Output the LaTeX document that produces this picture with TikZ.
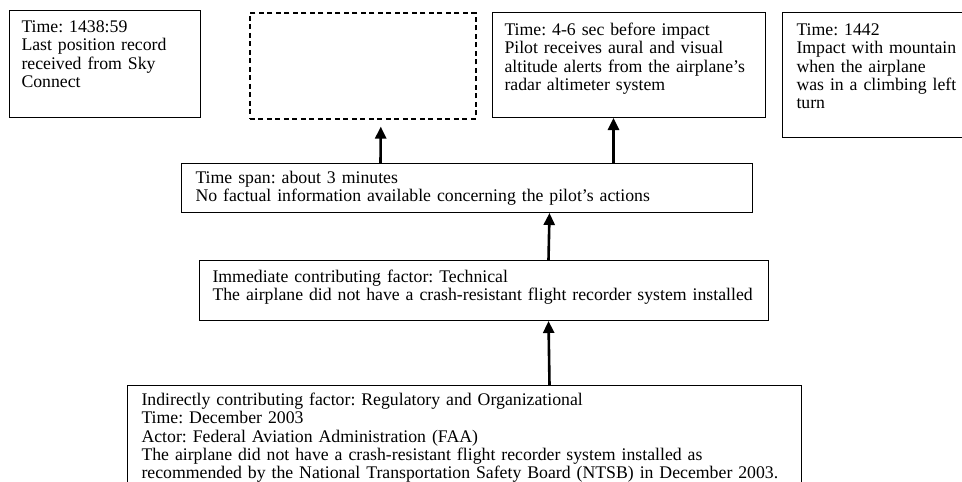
\documentclass[tikz,border=0pt]{standalone}
\usepackage{fontspec}
\setmainfont{Liberation Serif}
\usetikzlibrary{arrows.meta}
\frenchspacing
\hyphenpenalty=10000
\exhyphenpenalty=10000

\begin{document}
\begin{tikzpicture}[x=1pt, y=-1pt,
  font=\fontsize{17.75}{18.25}\selectfont,
  event/.style={draw, line width=1pt, anchor=north west, align=left, inner xsep=12pt, inner ysep=0pt},
  unknown/.style={draw, line width=1.6pt, dash pattern=on 5pt off 3.5pt, anchor=north west, inner sep=0pt},
  up/.style={line width=2.6pt, -{Triangle[width=11pt, length=12pt]}}]
  \useasboundingbox (0,0) rectangle (962,482);
  \clip (0,0) rectangle (962,482);

  % top row: the events
  \node[event, text width=167pt, text height=22pt, text depth=85pt] (sky) at (9,10) {Time: 1438:59\\Last position record\\received from Sky\\Connect};
  \node[unknown, minimum width=226pt, minimum height=106pt] (void) at (249,12) {};
  \node[event, text width=249pt, text height=23pt, text depth=82pt] (alert) at (492,12) {Time: 4-6 sec before impact\\Pilot receives aural and visual\\altitude alerts from the airplane's\\radar altimeter system};
  \node[event, inner xsep=14pt, text width=200pt, text height=23pt, text depth=102pt] (impact) at (782,12) {Time: 1442\\Impact with mountain\\when the airplane\\was in a climbing left\\turn};

  % below: span and contributing factors
  \node[event, inner xsep=14pt, text width=543pt, text height=20pt, text depth=29pt] (span) at (181,163) {Time span: about 3 minutes\\No factual information available concerning the pilot's actions};
  \node[event, inner xsep=13pt, text width=543pt, text height=22pt, text depth=38pt] (tech) at (199,260) {Immediate contributing factor: Technical\\\mbox{The airplane did not have a crash-resistant flight recorder system installed}};
  \node[event, inner xsep=14pt, text width=646pt, text height=20pt, text depth=120pt] (cause) at (127,385) {Indirectly contributing factor: Regulatory and Organizational\\Time: December 2003\\Actor: Federal Aviation Administration (FAA)\\The airplane did not have a crash-resistant flight recorder system installed as\\recommended by the National Transportation Safety Board (NTSB) in December 2003.};

  \draw[up] ([xshift=-86.5pt]span.north) -- ([xshift=18pt,yshift=-7pt]void.south);
  \draw[up] ([xshift=146.5pt]span.north) -- ([xshift=-15.5pt]alert.south);
  \draw[up] ([xshift=64.5pt]tech.north) -- ([xshift=82.5pt]span.south);
  \draw[up] ([xshift=85pt]cause.north) -- ([xshift=64.5pt]tech.south);
\end{tikzpicture}
\end{document}
